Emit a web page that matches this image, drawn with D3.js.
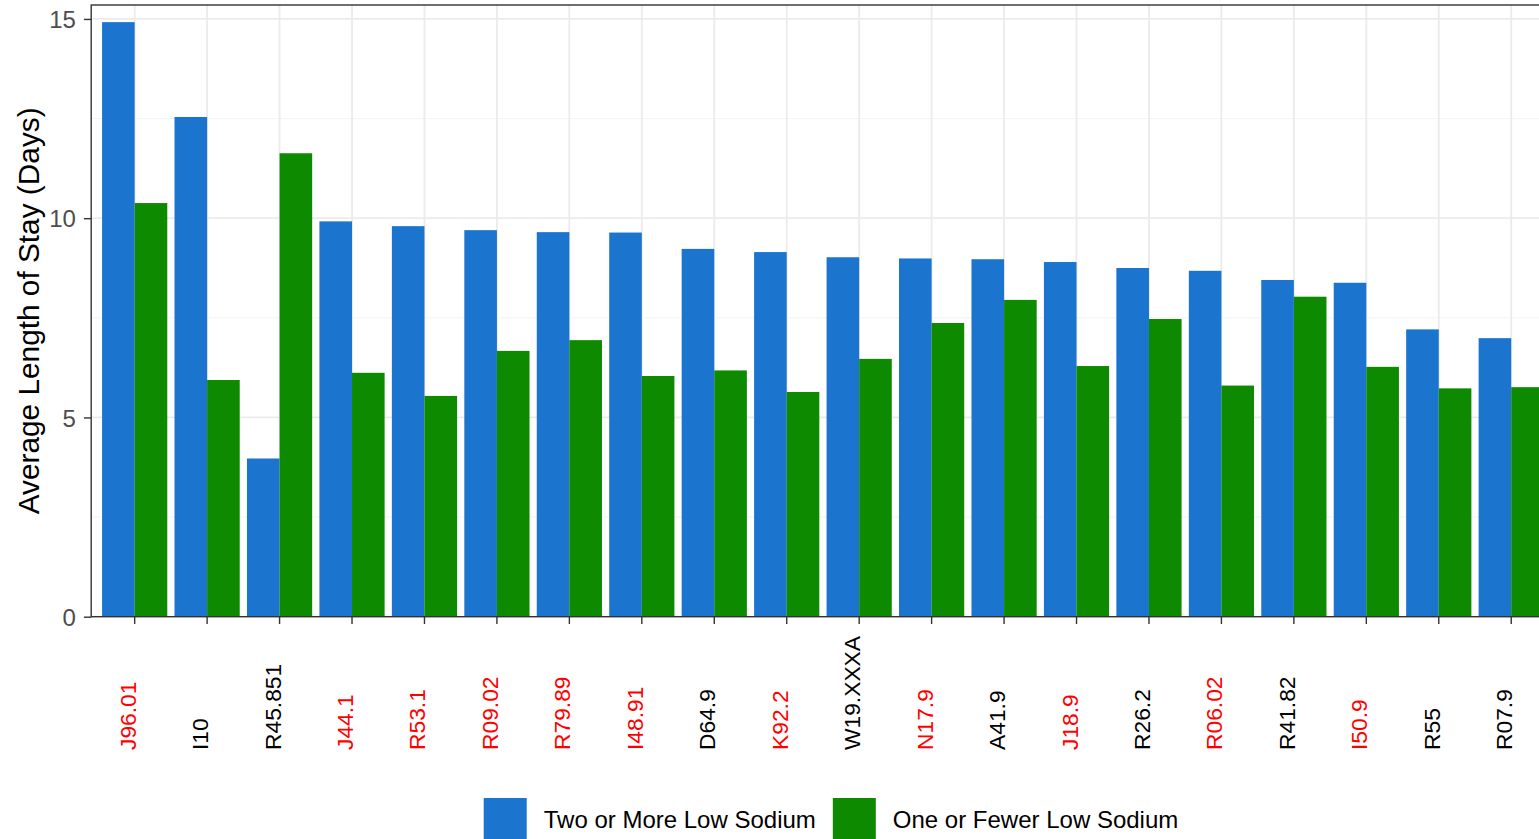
<!DOCTYPE html>
<html>
<head>
<meta charset="utf-8">
<script src="https://cdn.jsdelivr.net/npm/d3@7"></script>
<style>
  html, body { margin: 0; padding: 0; background: #fff; overflow: hidden; }
  svg { display: block; font-family: "Liberation Sans", Arial, Helvetica, sans-serif; }
</style>
</head>
<body>
<svg id="chart" width="1539" height="839"></svg>
<script>
// Diagnosis codes, ordered by average stay of the first group
const categories = ["J96.01", "I10", "R45.851", "J44.1", "R53.1", "R09.02", "R79.89", "I48.91",
  "D64.9", "K92.2", "W19.XXXA", "N17.9", "A41.9", "J18.9", "R26.2", "R06.02", "R41.82",
  "I50.9", "R55", "R07.9"];

// Codes whose axis label is highlighted
const highlighted = ["J96.01", "J44.1", "R53.1", "R09.02", "R79.89", "I48.91", "K92.2",
  "N17.9", "J18.9", "R06.02", "I50.9"];

const series = ["Two or More Low Sodium", "One or Fewer Low Sodium"];

// Average length of stay (days)
const twoOrMore = [14.92, 12.54, 3.97, 9.92, 9.80, 9.70, 9.65, 9.64, 9.23, 9.15, 9.02,
  8.99, 8.97, 8.90, 8.75, 8.68, 8.45, 8.38, 7.21, 6.99];
const oneOrFewer = [10.38, 5.94, 11.63, 6.12, 5.54, 6.67, 6.94, 6.04, 6.18, 5.64, 6.47,
  7.37, 7.95, 6.29, 7.47, 5.80, 8.03, 6.27, 5.73, 5.76];

const yTicks = [0, 5, 10, 15];
const yMinorTicks = [2.5, 7.5, 12.5];
const yTitle = "Average Length of Stay (Days)";

const colors = ["#1b74cd", "#0e8a00"];

const svg = d3.select("#chart");

// Panel geometry
const panelLeft = 91.2, panelTop = 5, panelBottom = 616.7;
const step = 72.45;
const panelRight = panelLeft + step * (categories.length + 0.2);

const x = d3.scaleBand()
  .domain(categories)
  .range([panelLeft, panelRight])
  .paddingInner(0)
  .paddingOuter(0.1);

const xSub = d3.scaleBand()
  .domain(series)
  .range([0, x.bandwidth() * 0.9]);

const y = d3.scaleLinear().domain([0, 15.35]).range([panelBottom, panelTop]);

const rows = categories.map((c, i) => ({ code: c, values: [twoOrMore[i], oneOrFewer[i]] }));

// Panel background and grid
const panel = svg.append("g");
panel.append("rect")
  .attr("x", panelLeft).attr("y", panelTop)
  .attr("width", panelRight - panelLeft).attr("height", panelBottom - panelTop)
  .attr("fill", "#fff");

panel.selectAll("line.minor").data(yMinorTicks).join("line")
  .attr("class", "minor")
  .attr("x1", panelLeft).attr("x2", panelRight)
  .attr("y1", d => y(d)).attr("y2", d => y(d))
  .attr("stroke", "#f2f2f2").attr("stroke-width", 0.9);

panel.selectAll("line.majory").data(yTicks).join("line")
  .attr("class", "majory")
  .attr("x1", panelLeft).attr("x2", panelRight)
  .attr("y1", d => y(d)).attr("y2", d => y(d))
  .attr("stroke", "#ebebeb").attr("stroke-width", 1.8);

panel.selectAll("line.majorx").data(categories).join("line")
  .attr("class", "majorx")
  .attr("x1", d => x(d) + x.bandwidth() / 2).attr("x2", d => x(d) + x.bandwidth() / 2)
  .attr("y1", panelTop).attr("y2", panelBottom)
  .attr("stroke", "#ebebeb").attr("stroke-width", 1.8);

// Dodged bars
const groups = svg.append("g").selectAll("g").data(rows).join("g")
  .attr("transform", d => `translate(${x(d.code) + x.bandwidth() * 0.05},0)`);

groups.selectAll("rect").data(d => d.values.map((v, k) => ({ s: series[k], v, k })))
  .join("rect")
  .attr("x", d => xSub(d.s))
  .attr("width", xSub.bandwidth())
  .attr("y", d => y(d.v))
  .attr("height", d => y(0) - y(d.v))
  .attr("fill", d => colors[d.k]);

// Panel border
svg.append("rect")
  .attr("x", panelLeft).attr("y", panelTop)
  .attr("width", panelRight - panelLeft).attr("height", panelBottom - panelTop)
  .attr("fill", "none").attr("stroke", "#333").attr("stroke-width", 1.4);

// Y axis
const yAxis = d3.axisLeft(y).tickValues(yTicks).tickSize(7.3).tickPadding(8).tickFormat(d3.format("d"));
const gy = svg.append("g").attr("transform", `translate(${panelLeft},0)`).call(yAxis);
gy.select(".domain").remove();
gy.selectAll(".tick line").attr("stroke", "#333").attr("stroke-width", 1.4);
gy.selectAll(".tick text")
  .attr("fill", "#4d4d4d")
  .style("font-size", "24px")
  .attr("dy", "0.36em");

// X axis ticks
const xAxis = d3.axisBottom(x).tickSize(7.3).tickFormat("");
const gx = svg.append("g").attr("transform", `translate(0,${panelBottom})`).call(xAxis);
gx.select(".domain").remove();
gx.selectAll(".tick line").attr("stroke", "#333").attr("stroke-width", 1.4);

// X tick labels, vertical, bottom aligned
svg.append("g").selectAll("text").data(categories).join("text")
  .attr("transform", d => `translate(${x(d) + x.bandwidth() / 2 + 1},750) rotate(-90)`)
  .attr("text-anchor", "start")
  .style("font-size", "22.8px")
  .attr("fill", d => highlighted.includes(d) ? "#ff0000" : "#000")
  .text(d => d);

// Y axis title
svg.append("text")
  .attr("transform", `translate(39,${(panelTop + panelBottom) / 2}) rotate(-90)`)
  .attr("text-anchor", "middle")
  .style("font-size", "29.8px")
  .attr("fill", "#000")
  .text(yTitle);

// Legend
const legendCenter = 831, keySize = 43, keyGap = 17, itemGap = 17, legendMid = 819.5;
const legend = svg.append("g");
const items = legend.selectAll("g").data(series).join("g");
items.append("rect")
  .attr("width", keySize).attr("height", keySize)
  .attr("y", legendMid - keySize / 2)
  .attr("fill", (d, i) => colors[i]);
items.append("text")
  .attr("x", keySize + keyGap)
  .attr("y", legendMid)
  .attr("dy", "0.35em")
  .style("font-size", "24px")
  .attr("fill", "#000")
  .text(d => d);

const widths = [];
items.each(function () { widths.push(this.querySelector("text").getComputedTextLength()); });
const total = widths.reduce((a, w) => a + keySize + keyGap + w, 0) + itemGap * (series.length - 1);
let cursor = legendCenter - total / 2;
items.each(function (d, i) {
  d3.select(this).attr("transform", `translate(${cursor},0)`);
  cursor += keySize + keyGap + widths[i] + itemGap;
});
</script>
</body>
</html>
